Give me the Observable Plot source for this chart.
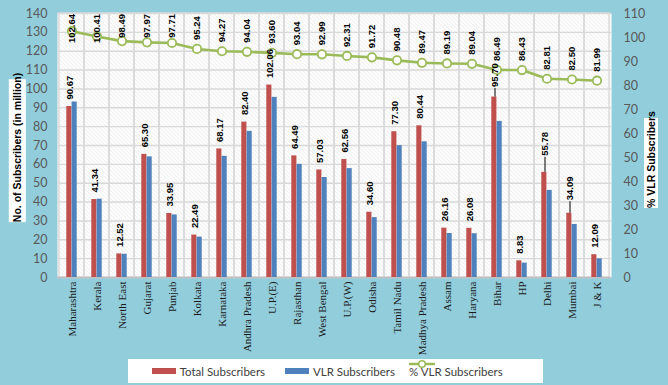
<!DOCTYPE html>
<html>
<head>
<meta charset="utf-8">
<script src="https://cdn.jsdelivr.net/npm/d3@7"></script>
<script src="https://cdn.jsdelivr.net/npm/@observablehq/plot@0.6"></script>
<style>
  body { margin: 0; }
  #chart { position: relative; width: 668px; height: 385px; background: #92CDDC; overflow: hidden; font-family: Lato, "Liberation Sans", sans-serif; }
  #chart svg { position: absolute; left: 0; top: 0; }
  .ytitle { position: absolute; background: #fff; color: #000; font: bold 10.5px "Liberation Sans", Arial, sans-serif; text-align: center; transform: rotate(-90deg); white-space: nowrap; }
  #legend { position: absolute; left: 128px; top: 359px; width: 415px; height: 24px; background: #fff; font-size: 11.5px; color: #404040; }
  .li { position: absolute; top: 0; height: 24px; display: flex; align-items: center; white-space: nowrap; }
  .sw { display: inline-block; width: 24px; height: 6px; margin-right: 4px; }
</style>
</head>
<body>
<div id="chart"></div>
<script>
const categories = ["Maharashtra","Kerala","North East","Gujarat","Punjab","Kolkata","Karnataka","Andhra Pradesh","U.P.(E)","Rajasthan","West Bengal","U.P.(W)","Odisha","Tamil Nadu","Madhya Pradesh","Assam","Haryana","Bihar","HP","Delhi","Mumbai","J & K"];
const totalSubscribers = [90.67,41.34,12.52,65.30,33.95,22.49,68.17,82.40,102.06,64.49,57.03,62.56,34.60,77.30,80.44,26.16,26.08,95.70,8.83,55.78,34.09,12.09];
const vlrSubscribers = [93.06,41.51,12.33,63.97,33.17,21.42,64.26,77.49,95.53,60.00,53.03,57.75,31.74,69.94,71.97,23.33,23.22,82.77,7.63,46.19,28.12,9.91];
const pctVlr = [102.64,100.41,98.49,97.97,97.71,95.24,94.27,94.04,93.60,93.04,92.99,92.31,91.72,90.48,89.47,89.19,89.04,86.49,86.43,82.81,82.50,81.99];
const leftTicks = d3.range(0, 141, 10);
const rightTicks = d3.range(0, 111, 10);

const leftMax = 140, rightMax = 110;
const k = leftMax / rightMax;

const W = 668, H = 359, mL = 57, mR = 57, mT = 13, mB = 82;
const red = "#C0504D", blue = "#4F81BD", green = "#9BBB59";
const labelFont = 9.5;

const yS = Plot.scale({y: {domain: [0, leftMax], range: [H - mB, mT]}});
const textLen = s => (s.replace(".", "").length * 0.556 + 0.278) * labelFont;

// label gaps (px) for bar labels; leader lines for displaced ones
const leader = {"Bihar": 10, "Delhi": 16.5, "Mumbai": 13};

const rows = categories.map((c, i) => {
  const t = totalSubscribers[i];
  const gap = leader[c] ?? 7;
  const p = pctVlr[i];
  const ptxt = p.toFixed(2);
  const ppx = yS.apply(p * k);
  const bottomPx = Math.max(mT + 0.5 + textLen(ptxt), ppx - 9);
  return {
    cat: c, total: t, vlr: vlrSubscribers[i], pct: p, pctY: p * k,
    tLabel: t.toFixed(2), tLabelY: yS.invert(yS.apply(t) - gap),
    leaderTop: yS.invert(yS.apply(t) - gap + 1.5), hasLeader: c in leader,
    pLabel: ptxt, pLabelY: yS.invert(bottomPx)
  };
});

const plot = Plot.plot({
  width: W, height: H,
  marginLeft: mL, marginRight: mR, marginTop: mT, marginBottom: mB,
  style: {background: "transparent", overflow: "visible"},
  x: {type: "band", domain: categories, padding: 0},
  y: {domain: [0, leftMax]},
  marks: [
    Plot.frame({fill: "#ffffff"}),
    Plot.frame({fill: "url(#hatch)"}),
    Plot.gridY(leftTicks, {stroke: "#d9d9d9", strokeOpacity: 1, strokeWidth: 1.4}),
    Plot.barY(categories, {x: d => d, y1: 0, y2: leftMax, fill: "none", stroke: "#d9d9d9", strokeWidth: 1.4}),
    Plot.ruleY([0], {stroke: "#bfbfbf", strokeWidth: 1.5}),
    Plot.barY(rows, {x: "cat", y: "total", fill: red, insetLeft: 7.3, insetRight: 12.6}),
    Plot.barY(rows, {x: "cat", y: "vlr", fill: blue, insetLeft: 12.6, insetRight: 7.3}),
    Plot.line(rows, {x: "cat", y: "pctY", stroke: green, strokeWidth: 2.6}),
    Plot.dot(rows, {x: "cat", y: "pctY", r: 4.2, fill: "#fff", stroke: green, strokeWidth: 1.8}),
    Plot.ruleX(rows.filter(d => d.hasLeader), {x: "cat", y1: "total", y2: "leaderTop", dx: -2, stroke: "#000", strokeWidth: 1}),
    Plot.text(rows, {x: "cat", y: "tLabelY", text: "tLabel", rotate: -90, textAnchor: "start", dx: -2,
      fontSize: labelFont, fontWeight: "bold", fontFamily: "Liberation Sans, Arial, sans-serif", fill: "#000"}),
    Plot.text(rows, {x: "cat", y: "pLabelY", text: "pLabel", rotate: -90, textAnchor: "start",
      fontSize: labelFont, fontWeight: "bold", fontFamily: "Liberation Sans, Arial, sans-serif", fill: "#000"}),
    Plot.axisY(leftTicks, {anchor: "left", tickSize: 0, tickPadding: 10, label: null, fontSize: 12.5, color: "#595959", fontFamily: "Lato, sans-serif"}),
    Plot.axisY(rightTicks.map(v => v * k), {anchor: "right", tickSize: 0, tickPadding: 12, label: null, tickFormat: v => Math.round(v / k), fontSize: 12.5, color: "#595959", fontFamily: "Lato, sans-serif"}),
    Plot.axisX({tickRotate: -90, tickSize: 0, tickPadding: 4, label: null, fontSize: 11, fontFamily: "Liberation Serif, Times New Roman, serif", color: "#1a1a1a"})
  ]
});

const ns = "http://www.w3.org/2000/svg";
const defs = document.createElementNS(ns, "defs");
defs.innerHTML = `<pattern id="hatch" patternUnits="userSpaceOnUse" width="4" height="4">
  <path d="M-1,-1 L5,5 M-1,3 L1,5 M3,-1 L5,1" stroke="#e0e0e0" stroke-width="0.8"/>
</pattern>`;
plot.insertBefore(defs, plot.firstChild);

const chart = document.getElementById("chart");
chart.appendChild(plot);

function title(text, cx, cy, w, h) {
  const d = document.createElement("div");
  d.className = "ytitle";
  d.textContent = text;
  Object.assign(d.style, {left: (cx - w / 2) + "px", top: (cy - h / 2) + "px", width: w + "px", height: h + "px", lineHeight: h + "px"});
  chart.appendChild(d);
}
title("No. of Subscribers (in million)", 17, 150.5, 143, 17.4);
title("% VLR Subscribers", 651.3, 163, 90, 14);

const legend = document.createElement("div");
legend.id = "legend";
legend.innerHTML = `
  <div class="li" style="left:23.7px"><span class="sw" style="background:${red}"></span>Total Subscribers</div>
  <div class="li" style="left:157px"><span class="sw" style="background:${blue}"></span>VLR Subscribers</div>
  <div class="li" style="left:281px"><svg width="26" height="10" style="margin-right:2px"><line x1="0" y1="5" x2="26" y2="5" stroke="${green}" stroke-width="2.5"/><circle cx="13" cy="5" r="3.3" fill="#fff" stroke="${green}" stroke-width="1.6"/></svg>% VLR Subscribers</div>`;
chart.appendChild(legend);
</script>
</body>
</html>
